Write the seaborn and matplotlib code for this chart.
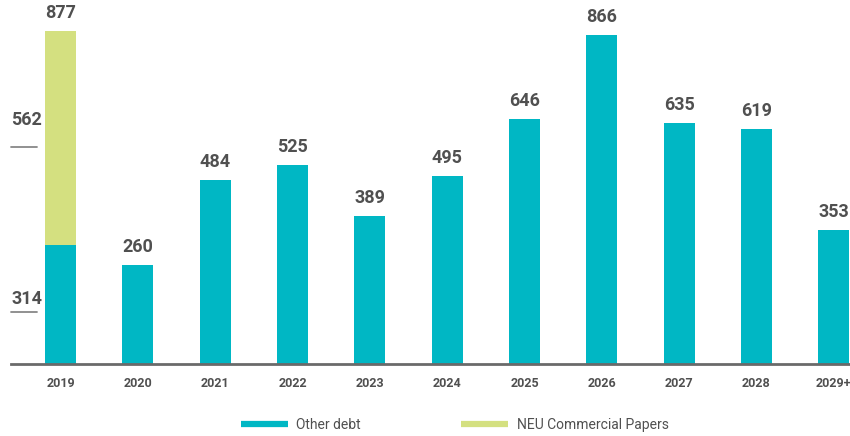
import seaborn as sns
import matplotlib.pyplot as plt
import pandas as pd
from matplotlib.lines import Line2D

# Data
years = ["2019", "2020", "2021", "2022", "2023", "2024", "2025", "2026", "2027", "2028", "2029+"]
other_debt = [314, 260, 484, 525, 389, 495, 646, 866, 635, 619, 353]
neu_cp = [562, 0, 0, 0, 0, 0, 0, 0, 0, 0, 0]
totals = [877, 260, 484, 525, 389, 495, 646, 866, 635, 619, 353]

teal = "#00B7C4"
green = "#D4E080"
grey = "#505050"

sns.set_style("white")
plt.rcParams["font.family"] = ["Roboto", "DejaVu Sans"]

df = pd.DataFrame({"year": years, "other": other_debt, "neu": neu_cp})
df["stack"] = df["other"] + df["neu"]

fig = plt.figure(figsize=(8.5, 4.36), dpi=100)
ax = fig.add_axes([0.013, 0.165, 0.987, 0.835])

sns.barplot(data=df, x="year", y="stack", color=green, width=0.4, saturation=1, linewidth=0, ax=ax)
sns.barplot(data=df, x="year", y="other", color=teal, width=0.4, saturation=1, linewidth=0, ax=ax)

ax.set_xlim(-0.64, 10.21)
ax.set_ylim(0, 958)
ax.set_xlabel("")
ax.set_ylabel("")
ax.set_yticks([])
for s in ["top", "right", "left"]:
    ax.spines[s].set_visible(False)
ax.spines["bottom"].set_color("#6a6a6a")
ax.spines["bottom"].set_linewidth(2)
ax.tick_params(axis="x", length=0, pad=9, labelsize=9, labelcolor=grey)
for t in ax.get_xticklabels():
    t.set_fontweight("bold")

# value labels on top
for i, v in enumerate(totals):
    ax.annotate(str(v), (i, max(v, df["stack"][i])), xytext=(0, 6.5), textcoords="offset points",
                ha="center", va="bottom", fontsize=13, fontweight="bold", color=grey)

# segment labels for 2019
xt = ax.get_xaxis_transform()
ax.text(-0.64, 0.645, "562", transform=xt, ha="left", va="bottom",
        fontsize=13, fontweight="bold", color=grey)
ax.plot([-0.64, -0.31], [0.596, 0.596], transform=xt, color="#888888", lw=1.3, clip_on=False)
ax.text(-0.64, 0.153, "314", transform=xt, ha="left", va="bottom",
        fontsize=13, fontweight="bold", color=grey)
ax.plot([-0.64, -0.31], [0.143, 0.143], transform=xt, color="#888888", lw=1.3, clip_on=False)

handles = [Line2D([], [], color=teal, lw=4.5, solid_capstyle="butt"),
           Line2D([], [], color=green, lw=4.5, solid_capstyle="butt")]
fig.legend(handles, ["Other debt", "NEU Commercial Papers"], loc="center", bbox_to_anchor=(0.535, 0.025),
           ncol=2, frameon=False, handlelength=3.4, handletextpad=0.6, columnspacing=7.2,
           fontsize=10, labelcolor=grey)

fig.savefig("out.png", dpi=100)
